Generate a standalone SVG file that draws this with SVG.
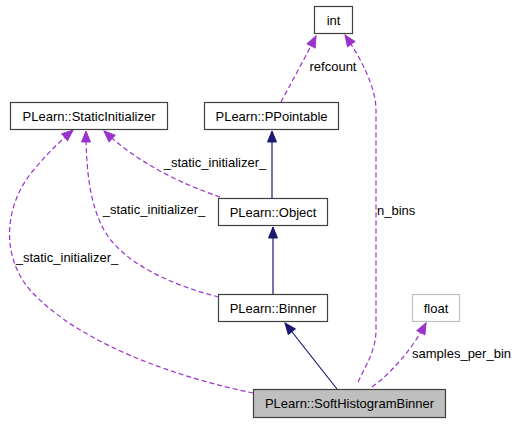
<svg xmlns="http://www.w3.org/2000/svg" width="515" height="424" viewBox="0 0 515 424">
<style>
  text { font-family: "Liberation Sans", Arial, sans-serif; font-size: 13px; fill: #000; }
  .node rect { fill: #fff; stroke: #404040; stroke-width: 1.2; }
  .node text { text-anchor: middle; }
  .dash { fill: none; stroke: #9a32cd; stroke-width: 1.2; stroke-dasharray: 5,3; }
  .solid { fill: none; stroke: #191970; stroke-width: 1.2; }
  .lbl { text-anchor: middle; }
</style>
<defs>
  <marker id="ap" markerUnits="userSpaceOnUse" markerWidth="13" markerHeight="11" viewBox="0 0 13 11" refX="12" refY="5.5" orient="auto">
    <path d="M1,1 L12,5.5 L1,10 z" fill="#9a32cd" stroke="#9a32cd" stroke-width="1"/>
  </marker>
  <marker id="an" markerUnits="userSpaceOnUse" markerWidth="13" markerHeight="11" viewBox="0 0 13 11" refX="12" refY="5.5" orient="auto">
    <path d="M1,1 L12,5.5 L1,10 z" fill="#191970" stroke="#191970" stroke-width="1"/>
  </marker>
</defs>
<rect width="515" height="424" fill="#fff"/>
<g id="connectors">
  <path class="dash" d="M281,102 C290,85 305,58 316,36" marker-end="url(#ap)"/>
  <path class="dash" d="M358,382 C366,365 376,350 376,330 L376,110 C376,88 362,60 345,35" marker-end="url(#ap)"/>
  <path class="dash" d="M372,387 C390,374 412,350 426,323" marker-end="url(#ap)"/>
  <path class="solid" d="M337,389 L285,323" marker-end="url(#an)"/>
  <path class="solid" d="M273,294 L273,227" marker-end="url(#an)"/>
  <path class="solid" d="M272,198 L272,131" marker-end="url(#an)"/>
  <path class="dash" d="M220,197 C185,185 140,165 104,131" marker-end="url(#ap)"/>
  <path class="dash" d="M219,297 C170,285 122,262 104,230 C90,205 86,170 86,131" marker-end="url(#ap)"/>
  <path class="dash" d="M253,393 C180,378 80,345 30,290 C0,255 5,205 32,172 C45,156 58,143 73,130" marker-end="url(#ap)"/>
  <text class="lbl" x="333" y="71">refcount</text>
  <text x="377" y="215">n_bins</text>
  <text x="412" y="358">samples_per_bin</text>
  <text class="lbl" x="215" y="167">_static_initializer_</text>
  <text class="lbl" x="154" y="214">_static_initializer_</text>
  <text class="lbl" x="67" y="262">_static_initializer_</text>
</g>
<g id="int" class="node"><rect x="314.5" y="6.5" width="38" height="27"/><text x="333.5" y="24.5">int</text></g>
<g id="PPointable" class="node"><rect x="204.5" y="102.5" width="134" height="27"/><text x="271.5" y="120.5">PLearn::PPointable</text></g>
<g id="StaticInitializer" class="node"><rect x="10.5" y="102.5" width="157" height="27"/><text x="89" y="120.5">PLearn::StaticInitializer</text></g>
<g id="Object" class="node"><rect x="218.5" y="198.5" width="109" height="27"/><text x="273" y="216.5">PLearn::Object</text></g>
<g id="Binner" class="node"><rect x="218.5" y="294.5" width="109" height="27"/><text x="273" y="312.5">PLearn::Binner</text></g>
<g id="float" class="node"><rect x="412.5" y="294.5" width="47" height="27" style="stroke:#c0c0c0"/><text x="436" y="312.5">float</text></g>
<g id="SoftHistogramBinner" class="node"><rect x="253.5" y="389.5" width="192" height="28" style="fill:#bfbfbf"/><text x="349.5" y="408">PLearn::SoftHistogramBinner</text></g>
</svg>
